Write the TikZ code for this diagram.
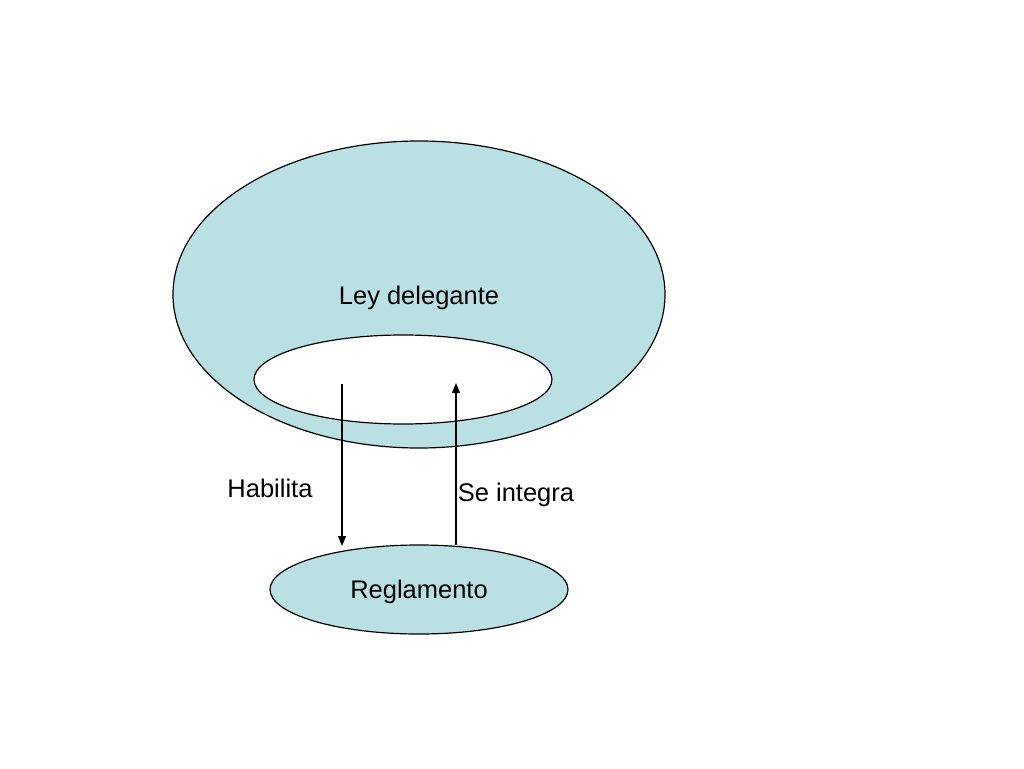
\documentclass[tikz,border=0pt]{standalone}
\usepackage{fontspec}
\setmainfont{Liberation Sans}
\usetikzlibrary{arrows.meta}
\definecolor{pptblue}{RGB}{187,224,227}
\begin{document}
\begin{tikzpicture}[x=1pt,y=-1pt,
  blob/.style={draw=black,line width=1.2pt,fill=pptblue},
  hole/.style={draw=black,line width=1.2pt,fill=white},
  lbl/.style={font=\fontsize{25.5}{30}\selectfont,inner sep=0pt},
  conn/.style={line width=1.3pt,-{Triangle[length=10pt,width=8pt]}}]
\useasboundingbox[fill=white] (0,0) rectangle (1024,768);
\draw[blob] (419,294.5) ellipse [x radius=246,y radius=153.5];
\draw[hole] (403,379.5) ellipse [x radius=149,y radius=44.5];
\draw[blob] (419,589.5) ellipse [x radius=149,y radius=44.5];
\node[lbl] (ley) at (419,298) {Ley delegante};
\node[lbl] (regl) at (419,592) {Reglamento};
\node[lbl] (hab) at (270,488) {Habilita};
\node[lbl] (se) at (516,495) {Se integra};
\coordinate (a1) at (342,384);
\coordinate (a2) at (342,546);
\coordinate (b1) at (456,545);
\coordinate (b2) at (456,383);
\draw[conn] (a1) -- (a2);
\draw[conn] (b1) -- (b2);
\end{tikzpicture}
\end{document}
